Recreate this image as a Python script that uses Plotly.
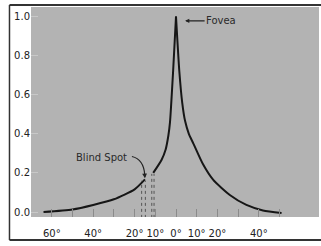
import plotly.graph_objects as go

# ---- data ----
temporal_deg = [-64, -50, -40, -30, -20, -15]
temporal_val = [0.0, 0.013, 0.036, 0.065, 0.116, 0.167]

inner_left_deg = [-11, -7, -5, -3.7, -2.9, -1.4, 0]
inner_left_val = [0.20, 0.266, 0.32, 0.39, 0.46, 0.72, 1.0]

nasal_deg = [0, 1.6, 3.0, 4.4, 6.2, 8.4, 13, 18, 26, 34, 42, 51]
nasal_val = [1.0, 0.72, 0.56, 0.465, 0.40, 0.35, 0.245, 0.164, 0.087, 0.036, 0.008, -0.005]

blind_edge_deg = [-16.6, -14.8, -11.7, -10.6]
blind_edge_val = [0.16, 0.16, 0.195, 0.195]

x_tick_vals = [-60, -50, -40, -30, -20, -10, 0, 10, 20, 30, 40, 50]
x_tick_text = ["60°", "", "40°", "", "20°", "10°", "0°", "10°", "20°", "", "40°", ""]
y_tick_vals = [0.0, 0.2, 0.4, 0.6, 0.8, 1.0]
y_tick_text = ["0.0", "0.2", "0.4", "0.6", "0.8", "1.0"]

FONT = "DejaVu Sans"
CURVE = "#161616"

fig = go.Figure()

for xs, ys in [(temporal_deg, temporal_val), (inner_left_deg, inner_left_val), (nasal_deg, nasal_val)]:
    fig.add_trace(go.Scatter(x=xs, y=ys, mode="lines",
                             line=dict(color=CURVE, width=2, shape="spline", smoothing=0.6),
                             hoverinfo="skip", showlegend=False))

for xd, yv in zip(blind_edge_deg, blind_edge_val):
    fig.add_trace(go.Scatter(x=[xd, xd], y=[-0.03, yv], mode="lines",
                             line=dict(color="#555555", width=1, dash="dot"),
                             hoverinfo="skip", showlegend=False))

# Blind spot curved pointer
fig.add_shape(type="path", xref="x", yref="y",
              path="M -21.3,0.284 Q -15.6,0.27 -15.1,0.19",
              line=dict(color="#222222", width=1.2))
fig.add_annotation(x=-15.0, y=0.172, ax=-0.5, ay=-6, text="", showarrow=True,
                   arrowhead=2, arrowsize=0.8, arrowwidth=1.2, arrowcolor="#222222")
fig.add_annotation(x=-36.1, y=0.279, text="Blind Spot", showarrow=False,
                   font=dict(family=FONT, size=10, color="#2a2a2a"))

# Fovea label with arrow
fig.add_annotation(x=4.4, y=0.978, ax=36, ay=0, text="Fovea", showarrow=True,
                   arrowhead=2, arrowsize=0.7, arrowwidth=1.2, arrowcolor="#222222",
                   font=dict(family=FONT, size=10, color="#2a2a2a"))

# outer frame
frame = dict(color="#333333", width=2)
fig.add_shape(type="line", xref="paper", yref="paper", x0=-0.0747, x1=1.02, y0=1.0095, y1=1.0095, line=frame)
fig.add_shape(type="line", xref="paper", yref="paper", x0=-0.0747, x1=-0.0747, y0=-0.1095, y1=1.0095, line=dict(color="#333333", width=1.5))
fig.add_shape(type="line", xref="paper", yref="paper", x0=-0.0747, x1=1.02, y0=-0.1095, y1=-0.1095, line=frame)

fig.update_xaxes(range=[-70.05, 69.08], tickvals=x_tick_vals, ticktext=x_tick_text,
                 ticks="inside", ticklen=8, tickwidth=1, tickcolor="#8a8a8a",
                 showgrid=False, zeroline=False, showline=False, automargin=False,
                 ticklabelstandoff=9,
                 tickfont=dict(family=FONT, size=10, color="#222222"))
fig.update_yaxes(range=[-0.0256, 1.0486], tickvals=y_tick_vals, ticktext=y_tick_text,
                 ticks="inside", ticklen=7, tickwidth=1, tickcolor="#c8c8c8",
                 showgrid=False, zeroline=False, showline=False, automargin=False,
                 tickfont=dict(family=FONT, size=10, color="#222222"))

fig.update_layout(width=321, height=246, margin=dict(l=31, r=2, t=7, b=29),
                  plot_bgcolor="#b3b3b3", paper_bgcolor="white", showlegend=False)

fig.write_html("out.html", config={"displayModeBar": False},
               post_script="document.body.style.margin='0';document.body.style.overflow='hidden';")
